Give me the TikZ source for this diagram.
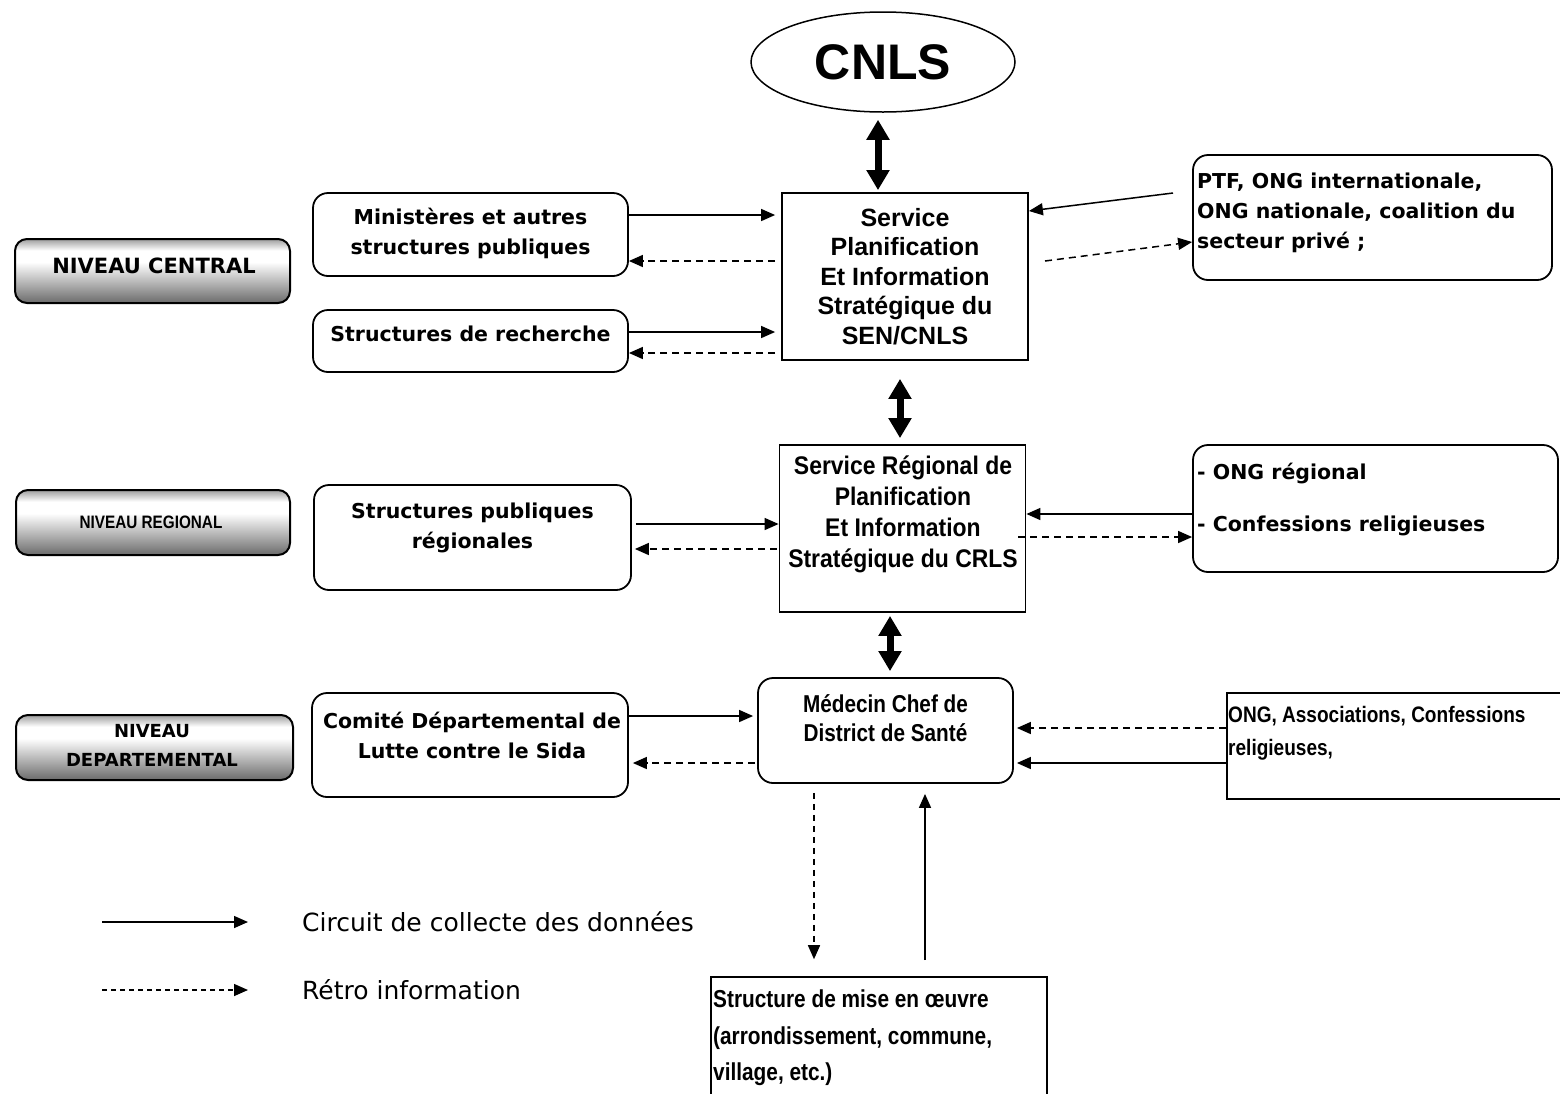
\documentclass[tikz,border=0pt]{standalone}
\usepackage{fontspec}
\usetikzlibrary{arrows.meta,shapes.geometric}
\newfontfamily\verd{DejaVu Sans}
\newfontfamily\arl{Liberation Sans}
\newfontfamily\narrowf[FakeStretch=0.85]{Liberation Sans}
\newfontfamily\semif[FakeStretch=0.9]{Liberation Sans}
\pgfdeclareverticalshading{lvlshade}{100bp}{color(0bp)=(black!58); color(25bp)=(black!58); color(57bp)=(white); color(66bp)=(white); color(75bp)=(black!38); color(100bp)=(black!38)}
\begin{document}
\begin{tikzpicture}[x=1pt,y=-1pt,
  rbox/.style={draw, line width=1.8pt, rounded corners=15pt, inner sep=0pt},
  sbox/.style={draw, line width=1.8pt, inner sep=0pt},
  lvl/.style={draw, line width=2pt, rounded corners=12pt, shade, shading=lvlshade, inner sep=0pt},
  vtxt/.style={font=\verd\bfseries\fontsize{20.5}{30}\selectfont, align=center, inner sep=0pt},
  vtxtl/.style={vtxt, align=left, anchor=west},
  ntxt/.style={font=\narrowf\bfseries\fontsize{24.4}{29}\selectfont, align=center, inner sep=0pt},
  legtxt/.style={font=\verd\fontsize{25}{30}\selectfont, anchor=west, inner sep=0pt},
  flow/.style={line width=1.5pt, -{Triangle[length=14pt,width=12pt]}},
  retro/.style={flow, dash pattern=on 7pt off 5pt},
  dbl/.style={line width=7pt, {Triangle[length=20pt,width=22pt]}-{Triangle[length=20pt,width=22pt]}}
]
\useasboundingbox (0,0) rectangle (1560,1093);
\clip (0,0) rectangle (1560,1093);

% top
\node[ellipse, draw, line width=1.5pt, minimum width=264pt, minimum height=100pt, inner sep=0pt,
      font=\arl\bfseries\fontsize{50}{60}\selectfont] (cnls) at (883,62) {CNLS};

% level boxes
\node[lvl, minimum width=275pt, minimum height=64pt] (lc) at (152.5,271) {};
\node[font=\verd\bfseries\fontsize{21}{26}\selectfont, inner sep=0pt] (lcT) at (154,266) {NIVEAU CENTRAL};
\node[lvl, minimum width=274pt, minimum height=65pt] (lr) at (153,522.5) {};
\node[font=\narrowf\bfseries\fontsize{18}{22}\selectfont, inner sep=0pt] (lrT) at (151,522) {NIVEAU REGIONAL};
\node[lvl, minimum width=277pt, minimum height=65pt] (ld) at (154.5,747.5) {};
\node[font=\verd\bfseries\fontsize{18}{29}\selectfont, align=center, inner sep=0pt] (ldT) at (152,745.5) {NIVEAU\\DEPARTEMENTAL};

% central level
\node[sbox, minimum width=246pt, minimum height=167pt, align=center,
      font=\arl\bfseries\fontsize{25}{29.5}\selectfont] (sen) at (905,276.5)
      {Service\\Planification\\Et Information\\Stratégique du\\SEN/CNLS};
\node[rbox, minimum width=315pt, minimum height=83pt] (min) at (470.5,234.5) {};
\node[vtxt] (minT) at (470.5,233) {Ministères et autres\\structures publiques};
\node[rbox, minimum width=315pt, minimum height=62pt] (rech) at (470.5,341) {};
\node[vtxt] (rechT) at (470.5,334) {Structures de recherche};
\node[rbox, minimum width=359pt, minimum height=125pt] (ptf) at (1372.5,217.5) {};
\node[vtxtl] (ptfT) at (1197,213) {PTF, ONG internationale,\\ONG nationale, coalition du\\secteur privé ;};

% regional level
\node[sbox, minimum width=246pt, minimum height=167pt] (reg) at (902.5,528.5) {};
\node[font=\semif\bfseries\fontsize{25.5}{31}\selectfont, align=center, inner sep=0pt] (regT) at (903,514.5)
      {Service Régional de\\Planification\\Et Information\\Stratégique du CRLS};
\node[rbox, minimum width=317pt, minimum height=105pt] (spr) at (472.5,537.5) {};
\node[vtxt] (sprT) at (472.5,528) {Structures publiques\\régionales};
\node[rbox, minimum width=365pt, minimum height=127pt] (ongr) at (1375.5,508.5) {};
\node[vtxtl] (ongrT) at (1197,499.5) {- ONG régional\\[22pt]- Confessions religieuses};

% departmental level
\node[rbox, minimum width=255pt, minimum height=105pt] (med) at (885.5,730.5) {};
\node[ntxt] (medT) at (885.5,718.5) {Médecin Chef de\\District de Santé};
\node[rbox, minimum width=316pt, minimum height=104pt] (com) at (470,745) {};
\node[vtxt] (comT) at (472,735) {Comité Départemental de\\Lutte contre le Sida};
\node[sbox, line width=1.6pt, minimum width=343pt, minimum height=106pt] (onga) at (1398.5,746) {};
\node[ntxt, font=\narrowf\bfseries\fontsize{22.4}{33}\selectfont, align=left, anchor=west] (ongaT) at (1228,733.5)
      {ONG, Associations, Confessions\\religieuses,};
\node[sbox, line width=1.6pt, minimum width=336pt, minimum height=133pt] (smo) at (879,1043.5) {};
\node[ntxt, font=\narrowf\bfseries\fontsize{24.5}{36.5}\selectfont, align=left, anchor=west] (smoT) at (713,1038)
      {Structure de mise en œuvre\\(arrondissement, commune,\\village, etc.)};

% thick double arrows
\draw[dbl, shorten <=7pt, shorten >=2pt] (cnls.south -| 878,0) -- (sen.north -| 878,0);
\draw[dbl, shorten <=18pt, shorten >=6pt] (sen.south -| 900,0) -- (reg.north -| 900,0);
\draw[dbl, shorten <=3pt, shorten >=6pt] (reg.south -| 890,0) -- (med.north -| 890,0);

% central arrows
\draw[flow, shorten >=6pt] (min.east |- 0,215) -- (sen.west |- 0,215);
\draw[retro, shorten <=6pt] (sen.west |- 0,261) -- (min.east |- 0,261);
\draw[flow, shorten >=6pt] (rech.east |- 0,332) -- (sen.west |- 0,332);
\draw[retro, shorten <=6pt] (sen.west |- 0,353) -- (rech.east |- 0,353);
\coordinate (ptfout) at (1173,193);
\draw[flow] (ptfout) -- (sen.east |- 0,211);
\coordinate (senout) at (1045,261);
\draw[retro] (senout) -- (ptf.west |- 0,242);

% regional arrows
\draw[flow, shorten <=4pt] (spr.east |- 0,524) -- (reg.west |- 0,524);
\draw[retro, shorten <=2pt, shorten >=3pt] (reg.west |- 0,549) -- (spr.east |- 0,549);
\draw[flow] (ongr.west |- 0,514) -- (reg.east |- 0,514);
\draw[retro, shorten <=-8pt] (reg.east |- 0,537) -- (ongr.west |- 0,537);

% departmental arrows
\draw[flow, shorten >=4pt] (com.east |- 0,716) -- (med.west |- 0,716);
\draw[retro, shorten <=2pt, shorten >=4pt] (med.west |- 0,763) -- (com.east |- 0,763);
\draw[retro, shorten >=3pt] (onga.west |- 0,728) -- (med.east |- 0,728);
\draw[flow, shorten >=3pt] (onga.west |- 0,763) -- (med.east |- 0,763);
\draw[retro, dash pattern=on 6pt off 5pt, shorten <=9pt, shorten >=17pt] (med.south -| 814,0) -- (smo.north -| 814,0);
\draw[flow, shorten <=16pt, shorten >=10pt] (smo.north -| 925,0) -- (med.south -| 925,0);

% legend
\coordinate (l1a) at (102,922);
\coordinate (l1b) at (248,922);
\coordinate (l2a) at (102,990);
\coordinate (l2b) at (248,990);
\draw[flow] (l1a) -- (l1b);
\draw[flow, dash pattern=on 5pt off 4pt] (l2a) -- (l2b);
\node[legtxt] (leg1) at (302,922) {Circuit de collecte des données};
\node[legtxt] (leg2) at (302,990) {Rétro information};
\end{tikzpicture}
\end{document}
